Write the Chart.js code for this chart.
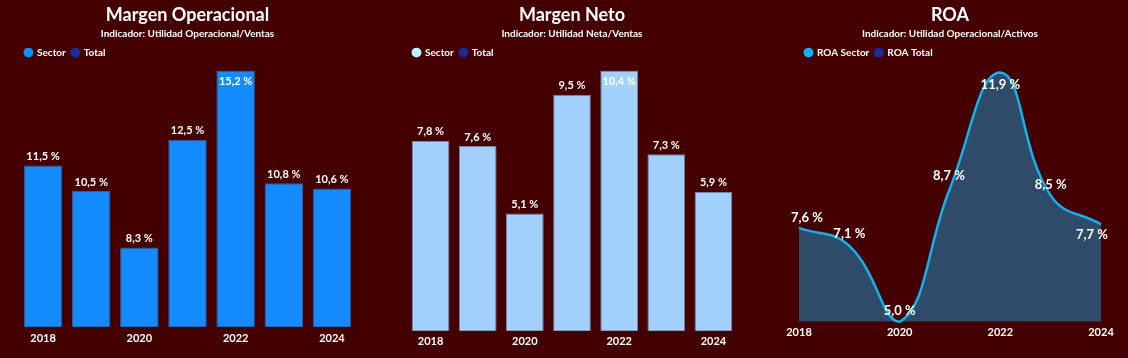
<!DOCTYPE html>
<html>
<head>
<meta charset="utf-8">
<script src="https://cdn.jsdelivr.net/npm/chart.js@4/dist/chart.umd.min.js"></script>
<style>
  body{ margin:0; background:#440000; width:1128px; height:358px; overflow:hidden; position:relative; font-family:Lato, sans-serif; }
  .panel{ position:absolute; top:0; height:358px; }
</style>
</head>
<body>
<div class="panel" style="left:0px;width:374px"><canvas id="c1" width="374" height="358"></canvas></div>
<div class="panel" style="left:392px;width:360px"><canvas id="c2" width="360" height="358"></canvas></div>
<div class="panel" style="left:772px;width:356px"><canvas id="c3" width="356" height="358"></canvas></div>
<script>
// ---------- DATA ----------
const years = ["2018","2019","2020","2021","2022","2023","2024"];
const margenOperacional = [11.5, 10.5, 8.3, 12.5, 15.2, 10.8, 10.6];
const margenNeto = [7.8, 7.6, 5.1, 9.5, 10.4, 7.3, 5.9];
const roaSector = [7.6, 7.1, 5.0, 8.7, 11.9, 8.5, 7.7];

const legendBars = ["Sector", "Total"];
const legendRoa = ["ROA Sector", "ROA Total"];

// ---------- HELPERS ----------
const FONT = "Lato";
const WHITE = "#ffffff";

function fmt(v){
    return v.toFixed(1).replace(".", ",") + " %";
}

// legend with fixed items (Sector / Total)
function legendItems(names, colors){
    return function(){
        return names.map((n,i)=>({
            text:n,
            fillStyle:colors[i],
            strokeStyle:colors[i],
            lineWidth:0,
            pointStyle:"circle",
            fontColor:WHITE,
            hidden:false,
            datasetIndex:0
        }));
    };
}

// extra room under the legend
const legendGap = {
    id:"legendGap",
    beforeInit(chart, args, opts){
        const fit = chart.legend.fit;
        chart.legend.fit = function(){
            fit.bind(chart.legend)();
            this.height += opts.gap || 0;
        };
    }
};

// value labels over marks
const valueLabels = {
    id:"valueLabels",
    afterDatasetsDraw(chart, args, opts){
        const ctx = chart.ctx;
        const meta = chart.getDatasetMeta(0);
        const data = chart.data.datasets[0].data;
        ctx.save();
        ctx.font = "bold " + opts.size + "px " + FONT;
        ctx.fillStyle = WHITE;
        ctx.textAlign = "center";
        ctx.textBaseline = "middle";
        meta.data.forEach((el,i)=>{
            let x = el.x, y = el.y;
            if(opts.offsets){
                x += opts.offsets[i][0];
                y += opts.offsets[i][1];
            }else if(el.y - chart.chartArea.top < 14){
                y += 11;
            }else{
                y -= 9;
            }
            ctx.fillText(fmt(data[i]), x, y);
        });
        ctx.restore();
    }
};

function headerPlugins(title, subtitle, names, colors, gap, labelOpts){
    return {
        title:{ display:true, text:title, color:WHITE, font:{ family:FONT, size:18, weight:"bold" }, padding:{ top:4, bottom:0 } },
        subtitle:{ display:true, text:subtitle, color:WHITE, font:{ family:FONT, size:10, weight:"bold" }, padding:{ top:2, bottom:2 } },
        legend:{
            display:true, align:"start",
            labels:{
                usePointStyle:true, boxWidth:7, boxHeight:7, padding:6,
                color:WHITE, font:{ family:FONT, size:10, weight:"bold" },
                generateLabels:legendItems(names, colors)
            },
            onClick:null
        },
        legendGap:{ gap:gap },
        valueLabels:labelOpts,
        tooltip:{ enabled:false }
    };
}

function xAxis(pad){
    return {
        grid:{ display:false, drawTicks:false }, border:{ display:false },
        ticks:{
            color:WHITE, autoSkip:false, maxRotation:0, padding:pad,
            font:{ family:FONT, size:11, weight:"bold" },
            callback:function(v,i){ return i % 2 === 0 ? this.getLabelForValue(v) : ""; }
        }
    };
}

// ---------- MARGEN OPERACIONAL ----------
new Chart(document.getElementById("c1"), {
    type:"bar",
    data:{
        labels:years,
        datasets:[{
            label:"Sector",
            data:margenOperacional,
            backgroundColor:"#148cff",
            borderColor:"#2f5c9c",
            borderWidth:1,
            barPercentage:0.8,
            categoryPercentage:1
        }]
    },
    options:{
        responsive:false, animation:false,
        layout:{ padding:{ left:19, right:18, top:0, bottom:8 } },
        scales:{
            x:xAxis(5),
            y:{ display:false, min:5.2, max:15.2 }
        },
        plugins:headerPlugins("Margen Operacional", "Indicador: Utilidad Operacional/Ventas", legendBars, ["#148cff","#1c2a9c"], 3, { size:11 })
    },
    plugins:[legendGap, valueLabels]
});

// ---------- MARGEN NETO ----------
new Chart(document.getElementById("c2"), {
    type:"bar",
    data:{
        labels:years,
        datasets:[{
            label:"Sector",
            data:margenNeto,
            backgroundColor:"#a3d1ff",
            borderColor:"#7585a6",
            borderWidth:1,
            barPercentage:0.8,
            categoryPercentage:1
        }]
    },
    options:{
        responsive:false, animation:false,
        layout:{ padding:{ left:15, right:15, top:0, bottom:6 } },
        scales:{
            x:xAxis(4),
            y:{ display:false, min:0.75, max:10.4 }
        },
        plugins:headerPlugins("Margen Neto", "Indicador: Utilidad Neta/Ventas", legendBars, ["#bff2ff","#1c2a9c"], 3, { size:11 })
    },
    plugins:[legendGap, valueLabels]
});

// ---------- ROA ----------
new Chart(document.getElementById("c3"), {
    type:"line",
    data:{
        labels:years,
        datasets:[{
            label:"ROA Sector",
            data:roaSector,
            borderColor:"#12b2ef",
            borderWidth:2.5,
            backgroundColor:"#2e4b69",
            fill:"start",
            tension:0.45,
            pointRadius:0,
            clip:false
        }]
    },
    options:{
        responsive:false, animation:false,
        layout:{ padding:{ left:27, right:27, top:0, bottom:15 } },
        scales:{
            x:{ ...xAxis(4), offset:false },
            y:{ display:false, min:5.0, max:11.9 }
        },
        plugins:headerPlugins("ROA", "Indicador: Utilidad Operacional/Activos", legendRoa, ["#12b2ef","#1c2a9c"], 5,
            { size:13, offsets:[[8,-10],[0,-12],[0,-11],[-1,-12],[0,12],[0,-11],[-9,11]] })
    },
    plugins:[legendGap, valueLabels]
});
</script>
</body>
</html>
